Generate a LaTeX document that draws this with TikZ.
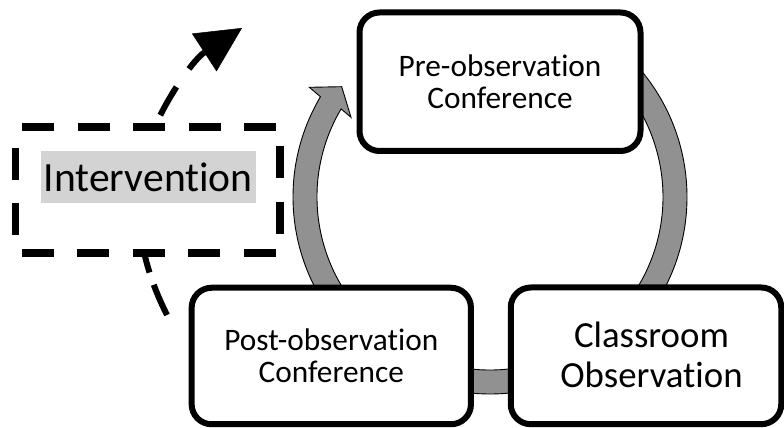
\documentclass[tikz,border=0pt]{standalone}
\usepackage{fontspec}
\setmainfont{Carlito}[Ligatures={NoCommon,NoContextual}]
\usetikzlibrary{arrows.meta,calc}
\definecolor{arcgray}{RGB}{145,145,145}
\definecolor{hlgray}{RGB}{211,211,211}
\newcommand\stagefont{\fontsize{31.3}{32}\selectfont}
\newcommand\classfont{\fontsize{36.8}{40}\selectfont}
\newcommand\interfont{\fontsize{41.6}{44}\selectfont}
\begin{document}
\begin{tikzpicture}[x=1pt,y=1pt,
  stage/.style={draw=black, line width=6pt, fill=white, rounded corners=20pt,
    align=center, inner sep=0pt, outer sep=0pt},
  dashbox/.style={line width=7.5pt, dash pattern=on 32pt off 23.5pt, dash phase=49pt},
  dashline/.style={line width=6pt, dash pattern=on 33pt off 13pt},
  dasharrow/.style={line width=6pt, dash pattern=on 32.5pt off 22pt, dash phase=16.8pt,
    -{Triangle[length=45pt,width=45pt,line width=0.5pt]}},
  cyclearrow/.style={fill=arcgray, draw=black, line width=0.9pt, line join=miter}]
\useasboundingbox (0,0) rectangle (784,428);

% circular gray arrow (drawn behind the stage boxes)
\coordinate (c) at (490,231);
\draw[cyclearrow] ($(c)+(50:197)$) arc[start angle=50, end angle=-210.6, radius=197]
  -- (309.3,340.7) -- (341.7,341.3) -- (351,310.7)
  -- ($(c)+(-210.6:173)$) arc[start angle=-210.6, end angle=50, radius=173] -- cycle;

% stage boxes
\node[stage, minimum width=281pt, minimum height=138.5pt, font=\stagefont]
  (pre) at (500,346.25) {Pre-observation\\Conference};
\node[stage, minimum width=270.5pt, minimum height=136.7pt] (cls) at (646,72.15) {};
\node[font=\classfont, align=center, inner sep=0pt] (clstext) at (651.5,73.25)
  {Classroom\\Observation};
\node[stage, minimum width=279.3pt, minimum height=136.5pt, font=\stagefont]
  (post) at (331.3,72) {Post-observation\\Conference};

% dashed lines passing behind the intervention box
\coordinate (a0) at (167,113);
\coordinate (h0) at (138,213);
\coordinate (h1) at (146,278);
\coordinate (a1) at (242,400);
\draw[dashline] (a0) .. controls (152,143) and (142,173) .. (h0);
\draw[dasharrow] (h1) .. controls (157.2,316.4) and (191.6,367.3) .. (a1);

% intervention box
\node[fill=white, minimum width=264.5pt, minimum height=126pt, inner sep=0pt,
  outer sep=0pt] (iv) at (147.75,238) {};
\draw[dashbox] (iv.north west) -- (iv.north east) -- (iv.south east)
  -- (iv.south west) -- cycle;
\node[fill=hlgray, font=\interfont, text height=41pt, text depth=11.3pt,
  inner xsep=3.25pt, inner ysep=0pt] (ivtext) at (148.25,251.25) {Intervention};
\end{tikzpicture}
\end{document}
